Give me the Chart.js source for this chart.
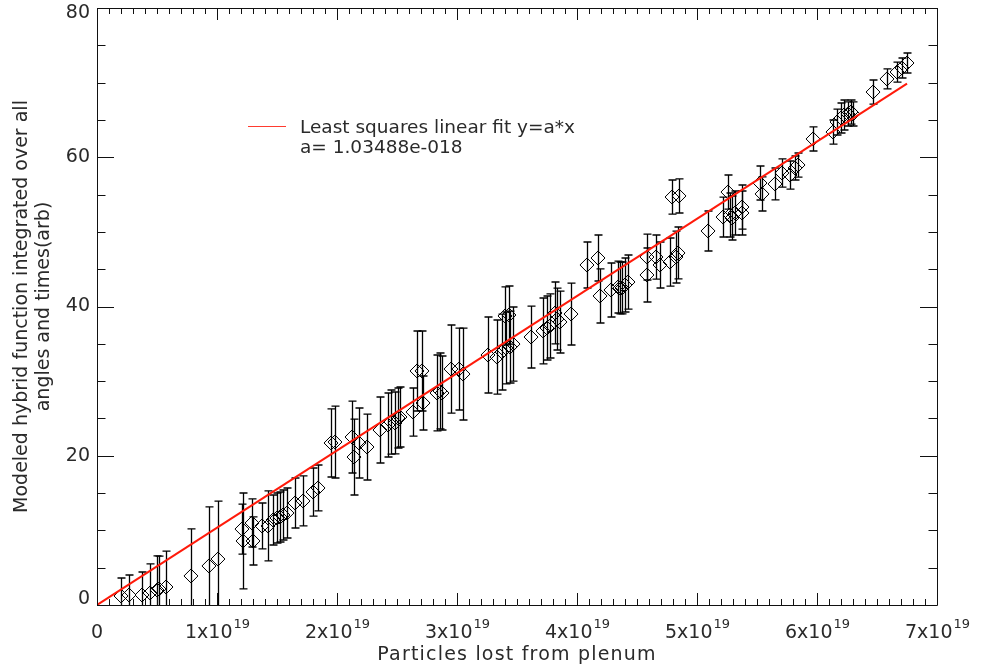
<!DOCTYPE html>
<html>
<head>
<meta charset="utf-8">
<script src="https://cdn.jsdelivr.net/npm/chart.js@4.4.0/dist/chart.umd.min.js"></script>
<style>
  html, body { margin: 0; padding: 0; background: #ffffff; }
  #wrap { width: 987px; height: 671px; }
</style>
</head>
<body>
<div id="wrap"><canvas id="plot" width="987" height="671"></canvas></div>
<script>
// Particles lost from plenum (x) per run
const particlesLost = [
  0.200e19, 0.267e19, 0.375e19, 0.442e19, 0.500e19, 0.517e19, 0.575e19, 0.783e19, 0.933e19, 1.008e19,
  1.208e19, 1.217e19, 1.292e19, 1.300e19, 1.375e19, 1.425e19, 1.467e19, 1.500e19, 1.525e19, 1.550e19,
  1.583e19, 1.650e19, 1.717e19, 1.800e19, 1.842e19, 1.950e19, 1.983e19, 2.125e19, 2.142e19, 2.183e19,
  2.250e19, 2.358e19, 2.425e19, 2.450e19, 2.483e19, 2.508e19, 2.525e19, 2.633e19, 2.667e19, 2.708e19,
  2.717e19, 2.833e19, 2.858e19, 2.875e19, 2.950e19, 3.017e19, 3.050e19, 3.258e19, 3.333e19, 3.375e19,
  3.400e19, 3.433e19, 3.408e19, 3.442e19, 3.467e19, 3.617e19, 3.717e19, 3.750e19, 3.775e19, 3.817e19,
  3.833e19, 3.858e19, 3.950e19, 4.083e19, 4.175e19, 4.192e19, 4.283e19, 4.342e19, 4.358e19, 4.375e19,
  4.400e19, 4.425e19, 4.583e19, 4.583e19, 4.658e19, 4.692e19, 4.775e19, 4.825e19, 4.842e19, 4.792e19,
  4.850e19, 5.092e19, 5.217e19, 5.258e19, 5.275e19, 5.292e19, 5.317e19, 5.375e19, 5.375e19, 5.525e19,
  5.542e19, 5.650e19, 5.708e19, 5.775e19, 5.817e19, 5.842e19, 5.967e19, 6.133e19, 6.167e19, 6.200e19,
  6.225e19, 6.258e19, 6.283e19, 6.300e19, 6.467e19, 6.583e19, 6.667e19, 6.708e19, 6.750e19
];

// Modeled hybrid function integrated over all angles and times (arb)
const modeledValue = [
  1.21, 1.34, 1.34, 1.61, 2.01, 2.14, 2.41, 3.89, 5.23, 6.16,
  10.18, 8.58, 10.99, 8.58, 10.59, 10.59, 11.39, 11.66, 11.79, 12.06,
  12.33, 13.67, 13.94, 15.14, 15.68, 21.71, 21.84, 22.51, 19.83, 21.71,
  21.17, 23.45, 24.12, 24.52, 24.39, 25.06, 25.19, 25.86, 31.36, 31.36,
  27.07, 28.41, 28.68, 28.41, 31.62, 31.62, 30.95, 33.50, 33.23, 33.90,
  38.73, 38.86, 34.44, 34.57, 34.97, 35.91, 36.72, 37.12, 37.39, 39.13,
  38.32, 37.92, 38.99, 45.56, 46.50, 41.41, 42.21, 42.61, 42.48, 42.48,
  42.88, 43.28, 44.22, 46.63, 46.63, 45.56, 45.96, 46.63, 47.17, 54.67,
  54.81, 50.12, 51.99, 55.34, 52.26, 51.86, 52.53, 53.33, 52.53, 56.55,
  55.08, 56.42, 57.89, 57.62, 58.56, 58.96, 62.45, 63.38, 64.72, 65.26,
  65.66, 65.80, 66.06, 65.80, 68.74, 70.49, 71.42, 71.96, 72.63
];

// One-sigma error on each modeled value
const modeledError = [
  2.41, 2.68, 3.08, 3.89, 4.56, 4.42, 4.82, 6.30, 7.91, 7.77,
  3.35, 6.43, 3.22, 3.22, 3.08, 4.69, 3.35, 3.35, 3.35, 3.35,
  3.35, 3.35, 3.35, 3.22, 3.08, 4.56, 4.82, 4.82, 5.09, 4.69,
  4.42, 4.42, 4.29, 4.29, 4.15, 4.02, 4.02, 3.22, 5.36, 5.36,
  3.62, 5.09, 5.09, 4.96, 5.90, 5.49, 6.16, 5.09, 4.96, 5.09,
  3.89, 3.89, 4.82, 4.82, 4.96, 4.15, 4.42, 4.29, 4.29, 4.15,
  4.15, 4.15, 4.15, 3.08, 3.08, 3.62, 3.62, 3.48, 3.48, 3.48,
  3.62, 3.62, 3.62, 3.08, 2.95, 3.08, 3.22, 3.48, 3.48, 2.28,
  2.28, 2.68, 2.68, 2.28, 2.95, 2.95, 2.95, 2.95, 2.95, 2.28,
  2.28, 2.14, 1.88, 1.88, 1.61, 1.61, 1.61, 1.61, 1.74, 2.01,
  2.01, 1.61, 1.61, 1.61, 1.61, 1.34, 1.34, 1.34, 1.34
];

// Least-squares fit through the origin: y = a*x
const fitSlope = 1.03488e-18;
const fitLegendText = 'Least squares linear fit y=a*x';
const fitCoefText = 'a= 1.03488e-018';

// Axis ranges, ticks and titles
const xRange = [0, 7e19];
const yRange = [0, 80];
const xTickMantissas = [0, 1, 2, 3, 4, 5, 6, 7];
const xTickExponent = 19;
const xMinorStep = 1e18;
const yTickValues = [0, 20, 40, 60, 80];
const yMinorStep = 5;
const xTitle = 'Particles lost from plenum';
const yTitleLines = ['Modeled hybrid function integrated over all', 'angles and times(arb)'];

const FONT_FAMILY = '"DejaVu Sans", "Liberation Sans", sans-serif';
const TEXT_COLOR = '#2a2a2a';

const points = particlesLost.map((x, i) => ({ x: x, y: modeledValue[i] }));
const xMax = Math.max(...particlesLost);
const fitPoints = [{ x: 0, y: 0 }, { x: xMax, y: fitSlope * xMax }];

// Vertical error bars with short caps, drawn beneath the diamonds
const errorBarPlugin = {
  id: 'errorBars',
  beforeDatasetsDraw(chart) {
    const { ctx, chartArea: a, scales: { x, y } } = chart;
    const capHalf = 4;
    ctx.save();
    ctx.beginPath();
    ctx.rect(a.left, a.top, a.right - a.left, a.bottom - a.top);
    ctx.clip();
    ctx.strokeStyle = '#000000';
    ctx.lineWidth = 1.3;
    particlesLost.forEach((xv, i) => {
      const px = Math.round(x.getPixelForValue(xv)) + 0.5;
      const yHi = y.getPixelForValue(modeledValue[i] + modeledError[i]);
      const yLo = y.getPixelForValue(modeledValue[i] - modeledError[i]);
      ctx.beginPath();
      ctx.moveTo(px, yHi); ctx.lineTo(px, yLo);
      ctx.moveTo(px - capHalf, yHi); ctx.lineTo(px + capHalf, yHi);
      ctx.moveTo(px - capHalf, yLo); ctx.lineTo(px + capHalf, yLo);
      ctx.stroke();
    });
    ctx.restore();
  }
};

// Box frame with inward ticks on all four sides, labels, titles and legend
const framePlugin = {
  id: 'frame',
  afterDraw(chart) {
    const { ctx, chartArea: a, scales: { x, y } } = chart;
    const L = a.left, R = a.right, T = a.top, B = a.bottom;
    const xMajorLen = 12, xMinorLen = 6, yMajorLen = 17, yMinorLen = 8.5;
    ctx.save();
    ctx.strokeStyle = '#111111';
    ctx.lineWidth = 1;

    ctx.beginPath();
    ctx.rect(Math.round(L) + 0.5, Math.round(T) + 0.5, Math.round(R - L), Math.round(B - T));
    ctx.stroke();

    // x ticks (bottom and top)
    ctx.beginPath();
    for (let v = xRange[0]; v <= xRange[1] + 1; v += xMinorStep) {
      const px = Math.round(x.getPixelForValue(v)) + 0.5;
      const isMajor = Math.abs(v / 1e19 - Math.round(v / 1e19)) < 1e-6;
      const len = isMajor ? xMajorLen : xMinorLen;
      ctx.moveTo(px, B); ctx.lineTo(px, B - len);
      ctx.moveTo(px, T); ctx.lineTo(px, T + len);
    }
    // y ticks (left and right)
    for (let v = yRange[0]; v <= yRange[1]; v += yMinorStep) {
      const py = Math.round(y.getPixelForValue(v)) + 0.5;
      const len = (v % 20 === 0) ? yMajorLen : yMinorLen;
      ctx.moveTo(L, py); ctx.lineTo(L + len, py);
      ctx.moveTo(R, py); ctx.lineTo(R - len, py);
    }
    ctx.stroke();

    ctx.fillStyle = TEXT_COLOR;

    // y tick labels, kept inside the vertical extent of the frame
    ctx.font = '19px ' + FONT_FAMILY;
    ctx.textAlign = 'right';
    ctx.textBaseline = 'middle';
    yTickValues.forEach(v => {
      const py = Math.min(B - 6, Math.max(T + 5, y.getPixelForValue(v)));
      ctx.fillText(String(v), L - 7, py);
    });

    // x tick labels: "0" and "N x 10^19"
    ctx.textBaseline = 'alphabetic';
    ctx.textAlign = 'left';
    const mainFont = '19px ' + FONT_FAMILY;
    const supFont = '13px ' + FONT_FAMILY;
    xTickMantissas.forEach(m => {
      const px = x.getPixelForValue(m * Math.pow(10, xTickExponent));
      if (m === 0) {
        ctx.font = mainFont;
        const w = ctx.measureText('0').width;
        ctx.fillText('0', px - w / 2, B + 33);
        return;
      }
      const mainTxt = m + 'x10';
      const supTxt = String(xTickExponent);
      ctx.font = mainFont;
      const w1 = ctx.measureText(mainTxt).width;
      ctx.font = supFont;
      const w2 = ctx.measureText(supTxt).width;
      const x0 = px - (w1 + w2) / 2;
      ctx.font = mainFont;
      ctx.fillText(mainTxt, x0, B + 33);
      ctx.font = supFont;
      ctx.fillText(supTxt, x0 + w1 + 1, B + 23);
    });

    // axis titles
    ctx.font = '19px ' + FONT_FAMILY;
    ctx.textAlign = 'center';
    ctx.textBaseline = 'middle';
    ctx.letterSpacing = '1.2px';
    ctx.fillText(xTitle, (L + R) / 2, B + 50);
    ctx.letterSpacing = '0px';

    const yMid = (T + B) / 2;
    ctx.save();
    ctx.translate(22, yMid);
    ctx.rotate(-Math.PI / 2);
    ctx.fillText(yTitleLines[0], 0, 0);
    ctx.restore();
    ctx.save();
    ctx.translate(44, yMid);
    ctx.rotate(-Math.PI / 2);
    ctx.fillText(yTitleLines[1], 0, 0);
    ctx.restore();

    // legend
    ctx.strokeStyle = '#ff3b2f';
    ctx.lineWidth = 1;
    ctx.beginPath();
    ctx.moveTo(248, 126.5); ctx.lineTo(286, 126.5);
    ctx.stroke();
    ctx.font = '18.5px ' + FONT_FAMILY;
    ctx.textAlign = 'left';
    ctx.textBaseline = 'alphabetic';
    ctx.fillText(fitLegendText, 300, 133);
    ctx.fillText(fitCoefText, 300, 153);

    ctx.restore();
  }
};

new Chart(document.getElementById('plot'), {
  type: 'scatter',
  data: {
    datasets: [
      {
        type: 'line',
        label: fitLegendText,
        data: fitPoints,
        borderColor: '#ff1a0a',
        borderWidth: 2,
        pointRadius: 0,
        fill: false,
        tension: 0
      },
      {
        label: 'modeled',
        data: points,
        pointStyle: 'rectRot',
        pointRadius: 7,
        pointHoverRadius: 7,
        borderColor: '#000000',
        backgroundColor: 'rgba(0,0,0,0)',
        borderWidth: 1,
        pointBorderWidth: 1
      }
    ]
  },
  options: {
    responsive: false,
    animation: false,
    events: [],
    layout: { padding: { left: 97, right: 50, top: 8, bottom: 66 } },
    plugins: { legend: { display: false }, tooltip: { enabled: false } },
    scales: {
      x: { type: 'linear', min: xRange[0], max: xRange[1], display: false },
      y: { type: 'linear', min: yRange[0], max: yRange[1], display: false }
    }
  },
  plugins: [errorBarPlugin, framePlugin]
});
</script>
</body>
</html>
